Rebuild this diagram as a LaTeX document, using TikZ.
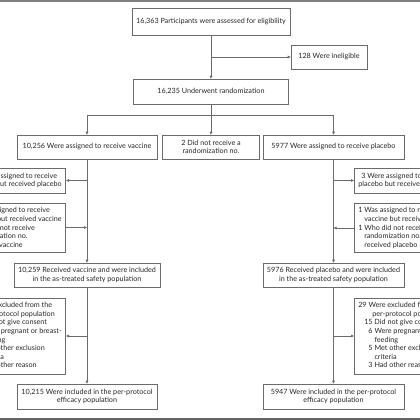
\documentclass[tikz,border=0pt]{standalone}
\usepackage{fontspec}
\setmainfont{Lato}
\usetikzlibrary{arrows.meta}
\definecolor{edge}{gray}{0.42}
\definecolor{rulegray}{gray}{0.5}

\begin{document}
\begin{tikzpicture}[x=1pt, y=-1pt, font=\fontsize{7.2}{8.6}\selectfont,
    box/.style={draw=edge, line width=0.6pt, align=center, text=black!85, inner xsep=4pt, inner ysep=2pt},
    arr/.style={draw=edge, line width=0.6pt, -{Triangle[length=3pt, width=2.6pt]}},
    ln/.style={draw=edge, line width=0.6pt}]
    \useasboundingbox (0,0) rectangle (420,420);
    \fill[rulegray] (0,0) rectangle (420,1.6);
    \fill[rulegray!80!black] (0,418) rectangle (420,420);

    \node (elig) [box, minimum width=157pt, minimum height=27pt] at (211,21.5) {16,363 Participants were assessed for eligibility};
    \node (inel) [box, minimum width=76pt, minimum height=24pt] at (329,57) {128 Were ineligible};
    \node (rand) [box, minimum width=155pt, minimum height=25pt] at (211,91.5) {16,235 Underwent randomization};
    \coordinate (split) at (211,115);

    \node (vacc) [box, minimum width=140pt, minimum height=24pt] at (87,147) {10,256 Were assigned to receive vaccine};
    \node (norand) [box, minimum width=97pt, minimum height=24pt] at (211,147) {2 Did not receive a\\randomization no.};
    \node (plac) [box, minimum width=141pt, minimum height=24pt] at (333.5,147) {5977 Were assigned to receive placebo};

    \node (lv1) [box, anchor=east, minimum height=25pt] at (66,180.5) {1 Was assigned to receive\\vaccine but received placebo};
    \node (lv2) [box, anchor=east, align=left, minimum height=49pt] at (66,227.5) {3 Were assigned to receive\\\hspace*{6pt}placebo but received vaccine\\1 Who did not receive\\\hspace*{6pt}randomization no.\\\hspace*{6pt}received vaccine};
    \node (rp1) [box, anchor=west, minimum height=25pt] at (354,180.5) {3 Were assigned to receive\\placebo but received vaccine};
    \node (rp2) [box, anchor=west, align=left, minimum height=49pt] at (354,228) {1 Was assigned to receive\\\hspace*{6pt}vaccine but received placebo\\1 Who did not receive\\\hspace*{6pt}randomization no.\\\hspace*{6pt}received placebo};

    \node (vsafe) [box, minimum width=140pt, minimum height=24pt] at (87,275) {10,259 Received vaccine and were included\\in the as-treated safety population};
    \node (psafe) [box, minimum width=141pt, minimum height=24pt] at (333.5,275) {5976 Received placebo and were included\\in the as-treated safety population};

    \node (lex) [box, anchor=east, minimum height=76pt] at (66,336) {\begin{tabular}{@{}l@{}r@{\ }l@{}}
        \multicolumn{3}{@{}l@{}}{44 Were excluded from the}\\
        \multicolumn{3}{@{}l@{}}{\hspace*{14pt}per-protocol population}\\
        \hspace*{6pt} & 20 & Did not give consent\\
        & 10 & Were pregnant or breast-\\
        & & feeding\\
        & 9 & Met other exclusion\\
        & & criteria\\
        & 5 & Had other reason
    \end{tabular}};
    \node (rex) [box, anchor=west, minimum height=76pt] at (354,336) {\begin{tabular}{@{}l@{}r@{\ }l@{}}
        \multicolumn{3}{@{}l@{}}{29 Were excluded from the}\\
        \multicolumn{3}{@{}l@{}}{\hspace*{14pt}per-protocol population}\\
        \hspace*{6pt} & 15 & Did not give consent\\
        & 6 & Were pregnant or breast-\\
        & & feeding\\
        & 5 & Met other exclusion\\
        & & criteria\\
        & 3 & Had other reason
    \end{tabular}};

    \node (vpp) [box, minimum width=140pt, minimum height=25pt] at (87,396.5) {10,215 Were included in the per-protocol\\efficacy population};
    \node (ppp) [box, minimum width=141pt, minimum height=25pt] at (333.5,396.5) {5947 Were included in the per-protocol\\efficacy population};

    \draw[arr] (elig) -- (rand);
    \draw[arr] (elig.south |- inel) -- (inel);
    \draw[ln] (rand) -- (split);
    \draw[arr] (split) -| (vacc.north);
    \draw[arr] (split) -- (norand);
    \draw[arr] (split) -| (plac.north);

    \draw[arr] (vacc) -- (vsafe);
    \draw[arr] (vacc.south |- lv1) -- (lv1);
    \draw[arr] (lv2) -- (vacc.south |- lv2);
    \draw[arr] (plac) -- (psafe);
    \draw[arr] (plac.south |- rp1) -- (rp1);
    \draw[arr] (rp2) -- (plac.south |- rp2);

    \draw[arr] (vsafe) -- (vpp);
    \draw[arr] (vsafe.south |- lex) -- (lex);
    \draw[arr] (psafe) -- (ppp);
    \draw[arr] (psafe.south |- rex) -- (rex);
\end{tikzpicture}
\end{document}
